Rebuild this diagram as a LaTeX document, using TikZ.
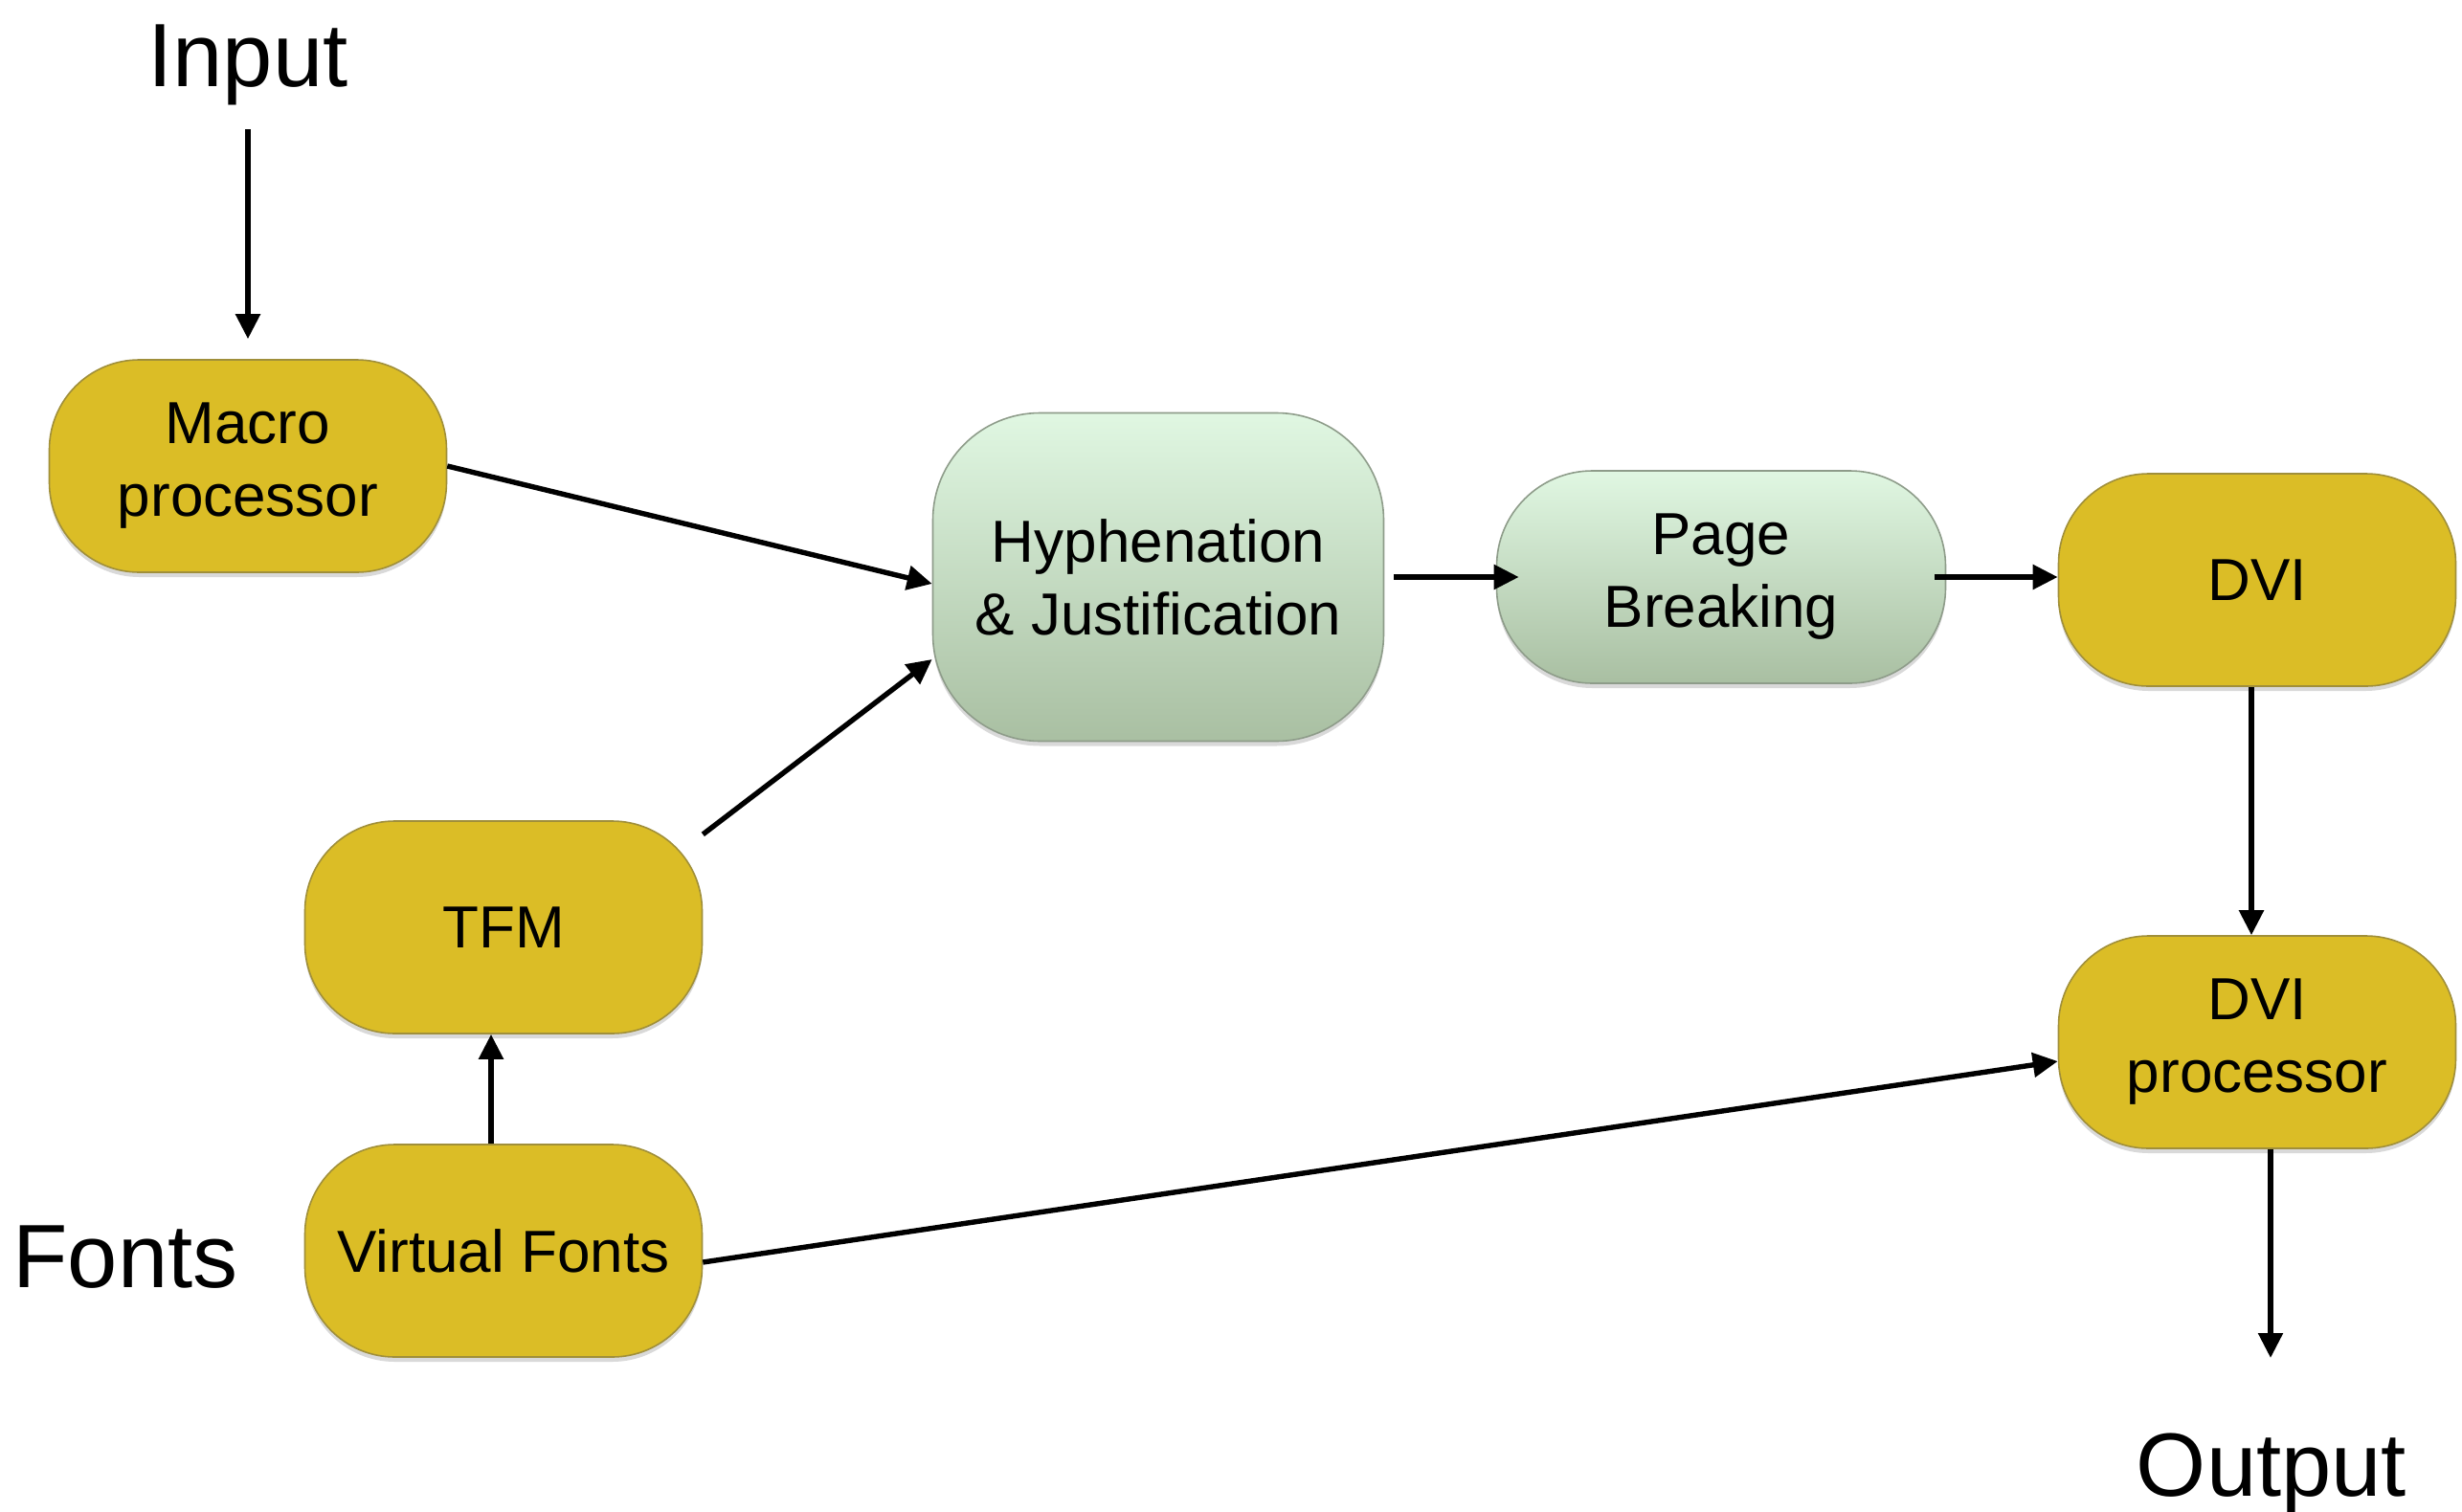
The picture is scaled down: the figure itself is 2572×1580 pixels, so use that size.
\documentclass[tikz,border=0pt]{standalone}
\usepackage{fontspec}
\setmainfont{Liberation Sans}
\usetikzlibrary{arrows.meta,shadows,calc}
\definecolor{ybox}{HTML}{DBBD26}
\definecolor{yedge}{HTML}{A08F3A}
\definecolor{gtop}{HTML}{E0F7E2}
\definecolor{gbot}{HTML}{A9BFA2}
\definecolor{gedge}{HTML}{8E9C8A}
\begin{document}
\begin{tikzpicture}[x=0.5pt,y=-0.5pt,
  box/.style={rounded corners=47pt, draw=yedge, line width=0.8pt, fill=ybox,
    minimum width=207.5pt, minimum height=111pt, align=center, inner sep=0pt,
    font=\fontsize{31}{38}\selectfont,
    drop shadow={shadow xshift=0pt, shadow yshift=-2.5pt, opacity=0.3}},
  gbox/.style={box, draw=gedge, top color=gtop, bottom color=gbot},
  biglabel/.style={font=\fontsize{47}{56}\selectfont, inner sep=0pt, anchor=base},
  arr/.style={line width=2.7pt, -{Triangle[length=13pt,width=12.5pt]}}]
\useasboundingbox (0,0) rectangle (2572,1580);

\node[box] (macro) at (259,487) {Macro\\processor};
\node[gbox, minimum width=235.5pt, minimum height=171.5pt, rounded corners=56pt] (hyph) at (1210,603) {Hyphenation\\\& Justification};
\node[gbox, minimum width=234.5pt, rounded corners=50pt] (page) at (1798,603) {Page\\Breaking};
\node[box] (dvi) at (2358,606) {DVI};
\node[box] (dviproc) at (2358,1089) {DVI\\processor};
\node[box] (tfm) at (526,969) {TFM};
\node[box] (vf) at (526,1307) {Virtual Fonts};

\node[biglabel] (input) at (259,90) {Input};
\node[biglabel] (fonts) at (131,1345) {Fonts};
\node[biglabel] (output) at (2373,1563) {Output};

\coordinate (inA) at (259,135);
\coordinate (outB) at (2372,1419);

\draw[arr, shorten >=10.5pt] (inA) -- (inA |- macro.north);
\draw[arr] (macro.east) -- ([yshift=-3.5pt]hyph.west);
\draw[arr] (tfm.25) -- (hyph.200);
\draw[arr, shorten <=5pt, shorten >=-12pt] (hyph.east) -- (page.west);
\draw[arr, shorten <=-6pt] (page.east) -- (page.east -| dvi.west);
\draw[arr] ([xshift=-3pt]dvi.south) -- ([xshift=-3pt]dviproc.north);
\draw[arr] ([xshift=-6.5pt]vf.north) -- ([xshift=-6.5pt]tfm.south);
\draw[arr] ([yshift=-6pt]vf.east) -- ([yshift=-10pt]dviproc.west);
\draw[arr] (dviproc.south -| outB) -- (outB);
\end{tikzpicture}
\end{document}
